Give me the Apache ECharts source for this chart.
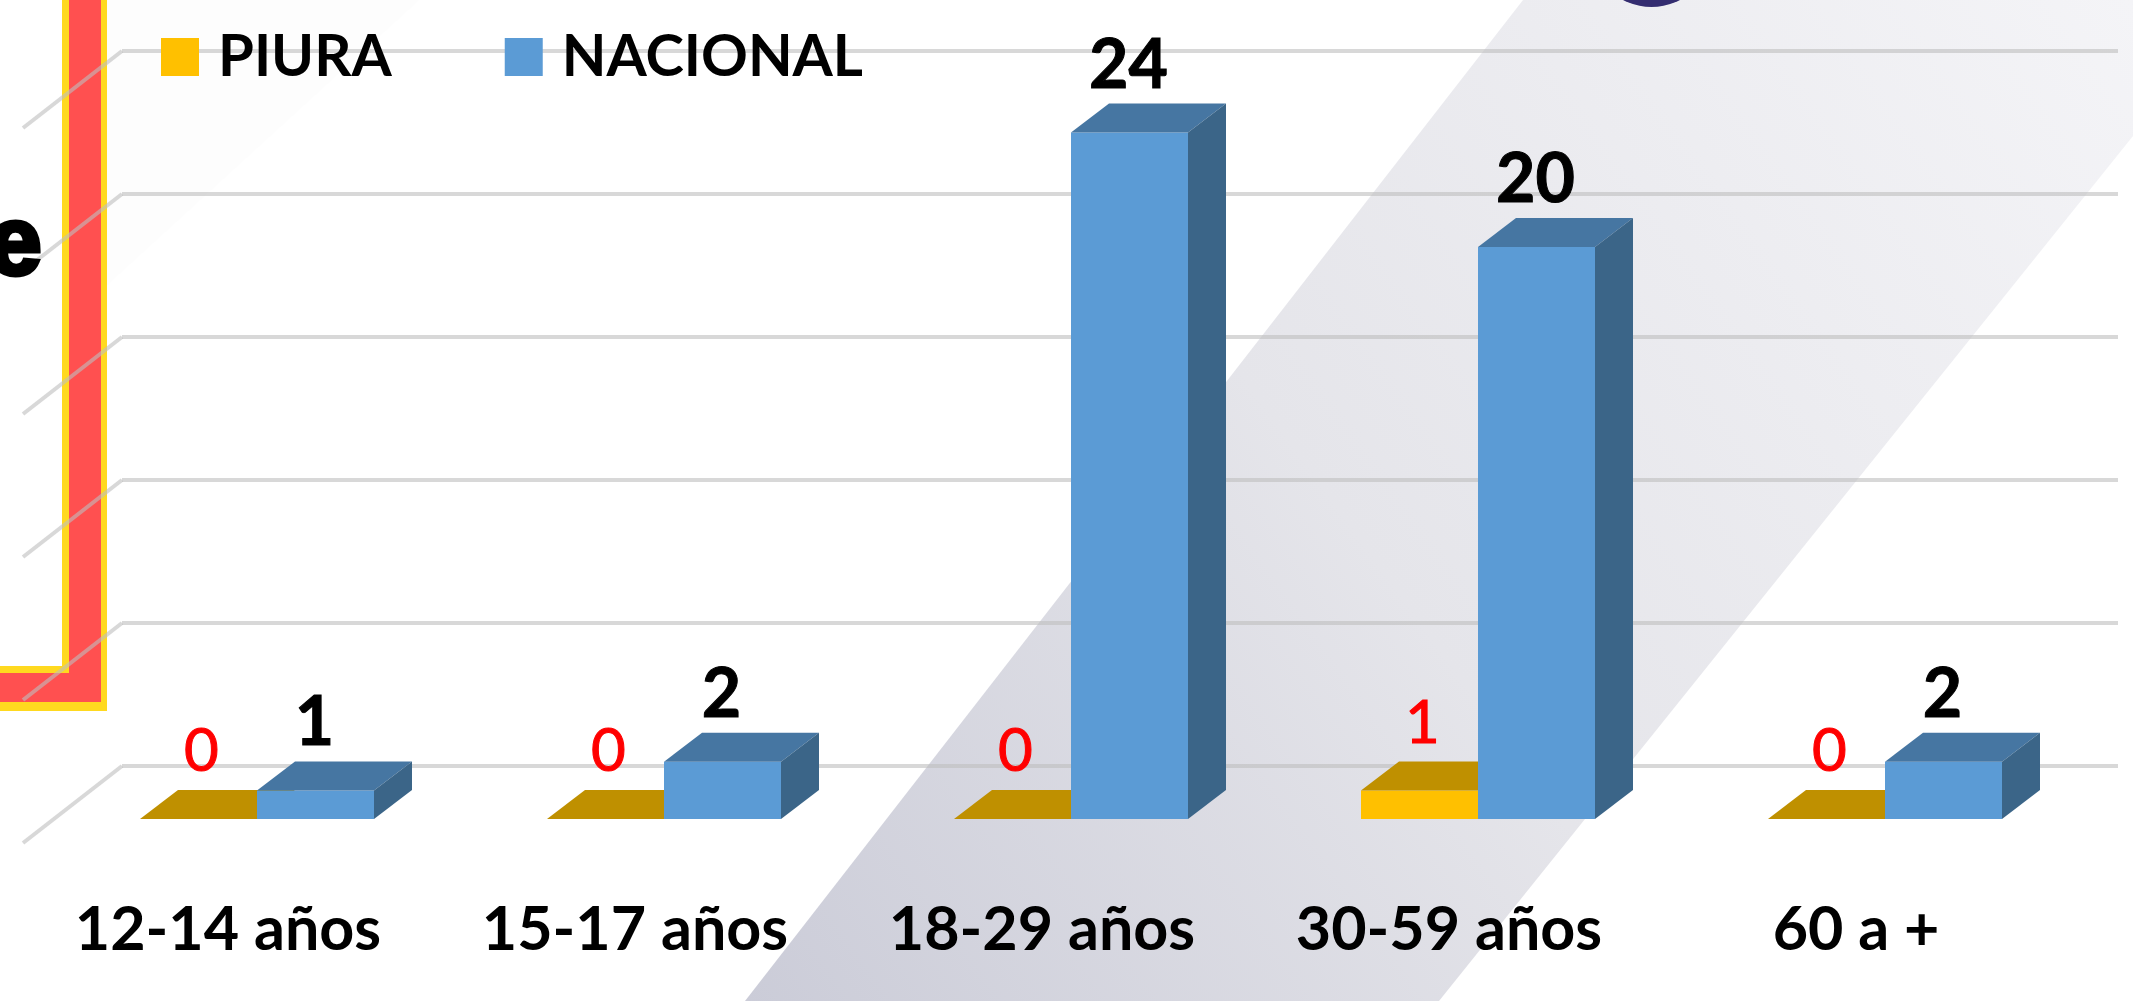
<!DOCTYPE html>
<html>
<head>
<meta charset="utf-8">
<title>PIURA / NACIONAL</title>
<style>
html, body { margin: 0; padding: 0; background: #fff; }
#main { width: 2133px; height: 1001px; }
</style>
<script src="https://cdn.jsdelivr.net/npm/echarts@6/dist/echarts.min.js"></script>
</head>
<body>
<div id="main"></div>
<script>
var categorias = ['12-14 años', '15-17 años', '18-29 años', '30-59 años', '60 a +'];
var piura = [0, 0, 0, 1, 0];
var nacional = [1, 2, 24, 20, 2];
var marcas = [0, 5, 10, 15, 20, 25];

var chart = echarts.init(document.getElementById('main'));

var anchoBarra = 117; // ancho del frente de cada barra
var fondoX = 38, fondoY = 29; // profundidad de la caja 3d
var fuente = 'Lato, "Open Sans", sans-serif';

// caja 3d: frente, tapa y lateral
function caja(lado, colores, texto) {
	return function(params, api) {
		var valor = api.value(1);
		var arriba = api.coord([api.value(0), valor]);
		var abajo = api.coord([api.value(0), 0]);
		var x0 = arriba[0] + (lado < 0 ? -anchoBarra : 0);
		var x1 = x0 + anchoBarra;
		var y0 = arriba[1], y1 = abajo[1];
		var hijos = [];
		if(valor > 0) {
			hijos.push({
				type: 'rect',
				shape: { x: x0, y: y0, width: anchoBarra, height: y1 - y0 },
				style: { fill: colores[0] }
			});
		}
		hijos.push({
			type: 'polygon',
			shape: { points: [[x0, y0], [x0 + fondoX, y0 - fondoY], [x1 + fondoX, y0 - fondoY], [x1, y0]] },
			style: { fill: colores[1] }
		});
		if(lado > 0) {
			hijos.push({
				type: 'polygon',
				shape: { points: [[x1, y0], [x1 + fondoX, y0 - fondoY], [x1 + fondoX, y1 - fondoY], [x1, y1]] },
				style: { fill: colores[2] }
			});
		}
		hijos.push({
			type: 'text',
			style: {
				text: String(valor),
				x: (x0 + x1) / 2 + texto.dx,
				y: y0 - 67,
				align: 'center',
				verticalAlign: 'middle',
				fontFamily: fuente,
				fontSize: texto.size,
				fontWeight: texto.peso,
				fill: texto.color,
				stroke: texto.color,
				lineWidth: texto.borde
			}
		});
		return { type: 'group', children: hijos };
	};
}

function pares(lista) {
	return lista.map(function(v, i) { return [i, v]; });
}

var option = {
	backgroundColor: '#fff',
	animation: false,
	graphic: {
		elements: [
			// franjas de fondo
			{
				type: 'polygon', z: -20, silent: true,
				shape: { points: [[419, 0], [107, 285], [107, 0]] },
				style: { fill: '#fdfdfd' }
			},
			{
				type: 'polygon', z: -20, silent: true,
				shape: { points: [[1523, 0], [745, 1001], [1439, 1001], [2133, 136], [2133, 0]] },
				style: {
					fill: new echarts.graphic.LinearGradient(0, 1, 1, 0, [
						{ offset: 0, color: '#cbccd8' },
						{ offset: 0.45, color: '#e5e5ea' },
						{ offset: 1, color: '#f4f4f7' }
					])
				}
			},
			// recuadro rojo de la izquierda
			{
				type: 'polygon', z: -15, silent: true,
				shape: { points: [[62, 0], [107, 0], [107, 711], [0, 711], [0, 666], [62, 666]] },
				style: { fill: '#ffd91f' }
			},
			{
				type: 'polygon', z: -14, silent: true,
				shape: { points: [[69, 0], [101, 0], [101, 702], [0, 702], [0, 673], [69, 673]] },
				style: { fill: '#ff5050' }
			},
			{
				type: 'text', z: 5, silent: true,
				style: {
					text: 'e', x: -12, y: 248, verticalAlign: 'middle',
					fontFamily: '"Liberation Sans", sans-serif', fontWeight: 'bold', fontSize: 96,
					fill: '#000', stroke: '#000', lineWidth: 5,
					shadowColor: 'rgba(0,0,0,0.35)', shadowBlur: 8, shadowOffsetY: 4
				}
			},
			{
				type: 'circle', z: -10, silent: true,
				shape: { cx: 1651.5, cy: -54.5, r: 61.5 },
				style: { fill: '#342d70' }
			}
		]
	},
	legend: {
		left: 161,
		top: 28,
		padding: 0,
		icon: 'rect',
		itemWidth: 38,
		itemHeight: 38,
		itemGap: 113,
		data: ['PIURA', 'NACIONAL'],
		textStyle: {
			fontFamily: fuente,
			fontSize: 58,
			fontWeight: 'bold',
			color: '#000',
			padding: [0, 0, 0, 14]
		}
	},
	grid: [
		{ left: 53.5, width: 2035, top: 104, height: 715 },
		{ left: 122, width: 1996, top: 51, height: 715 }
	],
	xAxis: [
		{
			type: 'category',
			gridIndex: 0,
			data: categorias,
			axisLine: { show: false },
			axisTick: { show: false },
			axisLabel: {
				interval: 0,
				margin: 81,
				padding: [0, 58, 0, 0],
				fontFamily: fuente,
				fontSize: 61,
				fontWeight: 'bold',
				color: '#000'
			}
		},
		{ type: 'value', gridIndex: 1, min: 0, max: 1, show: false }
	],
	yAxis: [
		{ type: 'value', gridIndex: 0, min: 0, max: 25, interval: 5, show: false },
		{
			type: 'value',
			gridIndex: 1,
			min: 0,
			max: 25,
			interval: 5,
			axisLine: { show: false },
			axisTick: { show: false },
			axisLabel: { show: false },
			splitLine: { lineStyle: { color: 'rgba(190,190,190,0.6)', width: 4 } }
		}
	],
	series: [
		{
			// lineas de la pared izquierda
			name: 'pared',
			type: 'custom',
			xAxisIndex: 1,
			yAxisIndex: 1,
			silent: true,
			z: 1,
			clip: false,
			data: marcas.map(function(m) { return [0, m]; }),
			renderItem: function(params, api) {
				var p = api.coord([0, api.value(1)]);
				return {
					type: 'line',
					shape: { x1: p[0], y1: p[1], x2: p[0] - 99, y2: p[1] + 77 },
					style: { stroke: 'rgba(190,190,190,0.6)', lineWidth: 4 }
				};
			}
		},
		{
			name: 'PIURA',
			type: 'custom',
			z: 3,
			clip: false,
			itemStyle: { color: '#FFC000' },
			data: pares(piura),
			renderItem: caja(-1, ['#FFC000', '#BF9000', '#BF9000'], { color: '#ff0000', size: 60, peso: 'normal', dx: 3, borde: 1 })
		},
		{
			name: 'NACIONAL',
			type: 'custom',
			z: 4,
			clip: false,
			itemStyle: { color: '#5B9BD5' },
			data: pares(nacional),
			renderItem: caja(1, ['#5B9BD5', '#4676A2', '#3B6588'], { color: '#000', size: 68, peso: 'bold', dx: -1, borde: 1 })
		}
	]
};

chart.setOption(option);
</script>
</body>
</html>
